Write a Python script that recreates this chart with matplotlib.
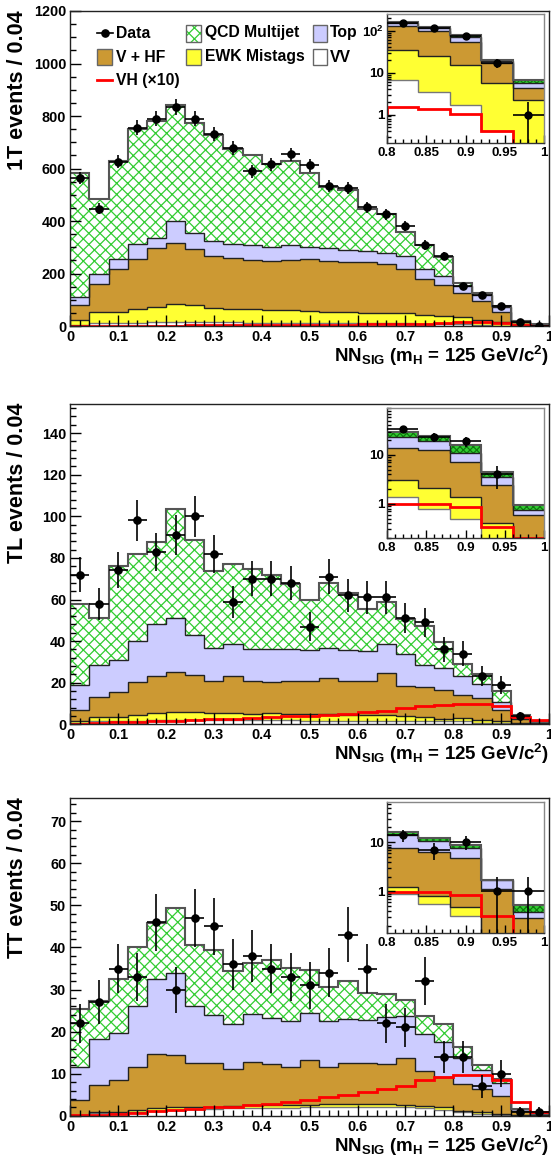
import numpy as np
import matplotlib
matplotlib.use('Agg')
import matplotlib.pyplot as plt
from matplotlib.patches import Rectangle
from matplotlib.lines import Line2D
from matplotlib.ticker import MultipleLocator, FixedLocator, LogLocator, NullFormatter, FixedFormatter

plt.rcParams['font.family'] = ['Liberation Sans', 'DejaVu Sans']
plt.rcParams['font.weight'] = 'bold'
plt.rcParams['mathtext.fontset'] = 'custom'
plt.rcParams['mathtext.rm'] = 'Liberation Sans:bold'
plt.rcParams['mathtext.bf'] = 'Liberation Sans:bold'
plt.rcParams['mathtext.it'] = 'Liberation Sans:bold'
plt.rcParams['hatch.linewidth'] = 0.9

# ---------------- data ----------------
bin_edges = [0.00, 0.04, 0.08, 0.12, 0.16, 0.20, 0.24, 0.28, 0.32, 0.36, 0.40, 0.44, 0.48,
             0.52, 0.56, 0.60, 0.64, 0.68, 0.72, 0.76, 0.80, 0.84, 0.88, 0.92, 0.96, 1.00]

# 1T
vv_1T = [5, 10, 12, 13, 14, 15, 15, 14, 14, 13, 13, 13, 12, 12, 11, 11, 10, 10, 9, 8, 6.8, 3.4, 1.7, 0.4, 0.1]
ewk_1T = [18, 45, 43, 53, 60, 68, 64, 56, 52, 50, 48, 48, 45, 43, 42, 40, 39, 38, 33, 32, 28.2, 21.1, 13.8, 5.3, 2.1]
vhf_1T = [56, 106, 161, 191, 224, 234, 213, 197, 192, 187, 187, 189, 197, 193, 192, 191, 186, 170, 138, 116, 91, 71.5, 38.5, 11.3, 2.1]
top_1T = [33, 38, 41, 54, 39, 83, 64, 57, 56, 57, 53, 57, 47, 50, 45, 42, 42, 49, 38, 34, 26, 23, 17, 1.6, 1.4]
qcd_1T = [472, 283, 372, 441, 445, 441, 419, 404, 359, 343, 317, 322, 281, 233, 228, 163, 151, 92, 89, 74, 13, 6, 7, 1.4, 0.8]
vh_1T = [0.03, 0.06, 0.09, 0.12, 0.15, 0.18, 0.21, 0.24, 0.27, 0.3, 0.34, 0.38, 0.42, 0.46, 0.5, 0.58, 0.65, 0.78, 0.95, 1.1, 1.49, 1.37, 1.05, 0.4, 0.15]
data_1T = [563, 447, 626, 756, 790, 834, 790, 730, 677, 590, 616, 654, 612, 532, 526, 452, 425, 380, 309, 267, 152, 119, 76, 17, 1]

# TL
vv_TL = [0.5, 1.5, 1.5, 1.8, 2, 2.2, 2.2, 2, 2, 2, 1.9, 1.9, 1.8, 1.8, 1.8, 1.7, 1.7, 1.6, 1.5, 1.4, 1.4, 0.8, 0.5, 0.15, 0.05]
ewk_TL = [1.1, 2.2, 2.2, 2.6, 3.3, 3.8, 3.5, 3.2, 3.2, 2.8, 3.3, 2.9, 3.0, 3.0, 2.9, 2.8, 2.7, 2.4, 2.1, 1.3, 1.7, 1.3, 0.9, 0.25, 0.05]
vhf_TL = [5.3, 9.2, 12, 15.8, 18.1, 19, 18, 15.5, 18.2, 16.2, 15.3, 16.2, 15.9, 17.5, 16.3, 16.5, 20.1, 14.6, 14.2, 13.8, 10.9, 10.5, 5.6, 2.04, 0.48]
top_TL = [12, 15.4, 15, 19.7, 24.7, 26.3, 19.1, 16.1, 15.4, 15.3, 15.8, 15.3, 14.8, 14.5, 14.8, 14.2, 14.3, 15, 10.8, 10.5, 9, 6.9, 3.8, 1.06, 0.17]
qcd_TL = [38.7, 22.9, 45.2, 42.1, 39.4, 52, 46, 37, 38.2, 38.3, 35.6, 31.2, 24.5, 31, 27.5, 20, 20.2, 16.8, 18.6, 12.6, 6, 4.5, 5.2, 0.9, 0.2]
vh_TL = [0.03, 0.06, 0.09, 0.12, 0.15, 0.18, 0.21, 0.24, 0.27, 0.3, 0.34, 0.38, 0.42, 0.45, 0.5, 0.6, 0.63, 0.78, 0.9, 0.94, 1.0, 1.0, 0.86, 0.34, 0.2]
data_TL = [72, 58, 74, 98, 83, 91, 100, 82, 59, 70, 70, 68, 47, 71, 62, 61, 61, 51, 49, 36, 34, 23, 19, 4, 0]

# TT
vv_TT = [0.1, 0.6, 0.6, 0.9, 1.2, 1.5, 1.6, 1.6, 1.8, 1.9, 1.9, 1.9, 2.0, 2.1, 2.1, 2.2, 2.2, 2.0, 1.8, 1.5, 0.9, 0.56, 0.31, 0.05, 0.02]
ewk_TT = [0.14, 0.4, 0.4, 0.5, 0.6, 0.6, 0.6, 0.6, 0.6, 0.6, 0.6, 0.6, 0.6, 0.7, 0.7, 0.7, 0.7, 0.6, 0.6, 0.5, 0.32, 0.25, 0.18, 0.05, 0.03]
vhf_TT = [3.46, 6.4, 7.5, 10.3, 12.9, 12.3, 10.3, 10.3, 8.7, 10.4, 9.8, 9.0, 10.7, 8.7, 9.7, 9.6, 9.4, 11.1, 8.2, 7.3, 6.38, 5.64, 4.21, 1.02, 0.24]
top_TT = [8, 10.9, 11.2, 14.5, 17.7, 19.6, 13.5, 11.5, 10.7, 11.3, 11, 11.1, 11.1, 11.1, 10.5, 10.3, 11.1, 10, 8.8, 8.2, 6.2, 4.35, 3.1, 0.58, 0.1]
qcd_TT = [13.7, 9.1, 12.7, 14, 13.5, 15.4, 14.5, 15.3, 12.7, 12.1, 13.8, 12.6, 10.3, 8, 9, 6.4, 5.6, 3.8, 4.4, 4.3, 2.5, 1.2, 1.0, 0.05, 0.14]
vh_TT = [0.01, 0.03, 0.05, 0.08, 0.11, 0.14, 0.17, 0.2, 0.22, 0.25, 0.28, 0.32, 0.38, 0.44, 0.5, 0.56, 0.63, 0.72, 0.85, 0.92, 0.98, 0.98, 0.86, 0.32, 0.1]
data_TT = [22, 27, 35, 33, 46, 30, 47, 45, 36, 38, 35, 33, 31, 34, 43, 35, 22, 21, 32, 14, 14, 7, 10, 1, 1]

process_names = ['VV', 'EWK Mistags', 'V + HF', 'Top', 'QCD Multijet']
vh_scale = 10

# ---------------- style ----------------
W, H = 551, 1162
C_VV = '#ffffff'
C_EWK = '#ffff33'
C_VHF = '#cc9933'
C_TOP = '#ccccff'
C_QCD = '#33cc33'

def fx(px):
    return px / W

def fy(py):
    return 1 - py / H

def ax_rect(l, t, r, b):
    return [fx(l), fy(b), (r - l) / W, (b - t) / H]

fig = plt.figure(figsize=(W / 100, H / 100), dpi=100)

panels = [
    dict(name='1T', comps=[vv_1T, ewk_1T, vhf_1T, top_1T, qcd_1T], vh=vh_1T, data=data_1T,
         main=(70.3, 11, 549, 326), ylim=1200, ymaj=200, ymin=50,
         inset=(387, 14, 544, 143), iylim=(0.21, 250), iyt=[1, 10, 100], iyl=['1', '10', r'$10^{2}$']),
    dict(name='TL', comps=[vv_TL, ewk_TL, vhf_TL, top_TL, qcd_TL], vh=vh_TL, data=data_TL,
         main=(70.3, 404, 549, 724.3), ylim=154, ymaj=20, ymin=4,
         inset=(387, 408, 544, 538), iylim=(0.2, 91), iyt=[1, 10], iyl=['1', '10']),
    dict(name='TT', comps=[vv_TT, ewk_TT, vhf_TT, top_TT, qcd_TT], vh=vh_TT, data=data_TT,
         main=(70.3, 798.4, 549, 1115.9), ylim=75.4, ymaj=10, ymin=2,
         inset=(387, 802, 544, 933), iylim=(0.143, 66), iyt=[1, 10], iyl=['1', '10']),
]

edges = np.array(bin_edges)
centers = 0.5 * (edges[:-1] + edges[1:])
halfw = 0.5 * (edges[1:] - edges[:-1])


def draw_stack(ax, comps, vh, data, log=False, inset=False):
    floor = 1e-4 if log else 0.0
    lower = np.zeros(len(comps[0]))
    fills = [C_VV, C_EWK, C_VHF, C_TOP, None]
    uppers = []
    for i, vals in enumerate(comps):
        upper = lower + np.array(vals, dtype=float)
        lo = np.maximum(lower, floor)
        if i == 4:
            if inset:
                ax.stairs(upper, edges, baseline=lo, fill=True, facecolor=C_QCD,
                          edgecolor='#0d7a0d', hatch='xxxxx', linewidth=0)
            else:
                ax.stairs(upper, edges, baseline=lo, fill=True, facecolor='white',
                          edgecolor=C_QCD, hatch='xxx', linewidth=0)
        else:
            ax.stairs(upper, edges, baseline=lo, fill=True, facecolor=fills[i], linewidth=0)
        uppers.append(upper)
        lower = upper
    for i, up in enumerate(uppers):
        if i == 4:
            ax.stairs(up, edges, baseline=None, color='#555555', lw=1.5)
        else:
            ax.stairs(up, edges, baseline=None, color='#222222' if i > 0 else '#777777', lw=1.0)
    scale = 1 if inset else vh_scale
    ax.stairs(np.array(vh) * scale, edges, baseline=None, color='#ff0000', lw=2.0)
    d = np.array(data, dtype=float)
    m = d > 0
    ax.errorbar(centers[m], d[m], xerr=halfw[m], yerr=np.sqrt(d[m]), fmt='o', color='black',
                ms=5.2 if not inset else 5.0, elinewidth=1.2, capsize=0, zorder=5)


for p in panels:
    l, t, r, b = p['main']
    ax = fig.add_axes(ax_rect(l, t, r, b))
    draw_stack(ax, p['comps'], p['vh'], p['data'])
    ax.set_xlim(0, 1)
    ax.set_ylim(0, p['ylim'])
    ax.xaxis.set_major_locator(MultipleLocator(0.1))
    ax.xaxis.set_minor_locator(MultipleLocator(0.02))
    ax.xaxis.set_major_formatter(plt.FuncFormatter(lambda v, pos: '%g' % round(v, 2)))
    ax.yaxis.set_major_locator(MultipleLocator(p['ymaj']))
    ax.yaxis.set_minor_locator(MultipleLocator(p['ymin']))
    ax.yaxis.set_major_formatter(plt.FuncFormatter(lambda v, pos: '%g' % v))
    ax.tick_params(which='both', direction='in', top=False, right=False, labelsize=10.4, width=1.0)
    ax.tick_params(which='major', length=8, pad=3)
    ax.tick_params(which='minor', length=4)
    for s in ax.spines.values():
        s.set_linewidth(1.0)
        s.set_color('#222222')
    # axis titles
    fig.text(fx(18), fy(t - 1), p['name'] + ' events / 0.04', rotation=90, ha='center', va='top',
             fontsize=15.5, fontweight='bold')
    fig.text(fx(549), fy(b + 30), r'NN$_{\mathbf{SIG}}$ (m$_{\mathbf{H}}$ = 125 GeV/c$^{\mathbf{2}}$)',
             ha='right', va='center', fontsize=13.5, fontweight='bold')

    # inset
    il, it, ir, ib = p['inset']
    ia = fig.add_axes(ax_rect(il, it, ir, ib))
    ia.set_yscale('log')
    draw_stack(ia, p['comps'], p['vh'], p['data'], log=True, inset=True)
    ia.set_xlim(0.8, 1.0)
    ia.set_ylim(*p['iylim'])
    ia.xaxis.set_major_locator(FixedLocator([0.8, 0.85, 0.9, 0.95, 1.0]))
    ia.xaxis.set_major_formatter(FixedFormatter(['0.8', '0.85', '0.9', '0.95', '1']))
    ia.xaxis.set_minor_locator(MultipleLocator(0.01))
    ia.yaxis.set_major_locator(FixedLocator(p['iyt']))
    ia.yaxis.set_major_formatter(FixedFormatter(p['iyl']))
    ia.yaxis.set_minor_locator(LogLocator(base=10, subs=range(2, 10)))
    ia.yaxis.set_minor_formatter(NullFormatter())
    ia.tick_params(which='both', direction='in', top=False, right=False, labelsize=9.6, width=1.0)
    ia.tick_params(which='major', length=6, pad=3)
    ia.tick_params(axis='y', which='major', pad=2)
    ia.tick_params(which='minor', length=3)
    for s in ia.spines.values():
        s.set_linewidth(1.0)
        s.set_color('#333333')
    ia.spines['top'].set_color('#888888')
    ia.spines['right'].set_color('#888888')

# ---------------- legend (panel 1) ----------------
def leg_box(x0, x1, y0, y1, **kw):
    fig.add_artist(Rectangle((fx(x0), fy(y1)), (x1 - x0) / W, (y1 - y0) / H,
                             transform=fig.transFigure, **kw))

def leg_text(x, y, s):
    fig.text(fx(x), fy(y), s, ha='left', va='center', fontsize=11.3, fontweight='bold')

# Data
fig.add_artist(Line2D([fx(97), fx(113)], [fy(33), fy(33)], color='black', lw=1.2,
                      transform=fig.transFigure))
fig.add_artist(Line2D([fx(105)], [fy(33)], color='black', marker='o', ms=5.2,
                      transform=fig.transFigure))
leg_text(116, 34, 'Data')
# QCD
leg_box(186, 201, 25, 42, facecolor='white', edgecolor=C_QCD, hatch='xxx', linewidth=0)
leg_box(186, 201, 25, 42, facecolor='none', edgecolor='#666666', linewidth=1.0)
leg_text(205, 33, 'QCD Multijet')
# Top
leg_box(313, 327, 25, 42, facecolor=C_TOP, edgecolor='#666666', linewidth=1.0)
leg_text(330, 33, 'Top')
# V + HF
leg_box(97, 112, 49, 65, facecolor=C_VHF, edgecolor='#666666', linewidth=1.0)
leg_text(116, 57, 'V + HF')
# EWK
leg_box(186, 201, 49, 65, facecolor=C_EWK, edgecolor='#666666', linewidth=1.0)
leg_text(205, 57, 'EWK Mistags')
# VV
leg_box(313, 327, 49, 65, facecolor=C_VV, edgecolor='#666666', linewidth=1.0)
leg_text(330, 57, 'VV')
# VH
fig.add_artist(Line2D([fx(97), fx(112)], [fy(80), fy(80)], color='#ff0000', lw=2.0,
                      transform=fig.transFigure))
leg_text(116, 80, 'VH (\u00d710)')

fig.savefig('out.png', dpi=100)
